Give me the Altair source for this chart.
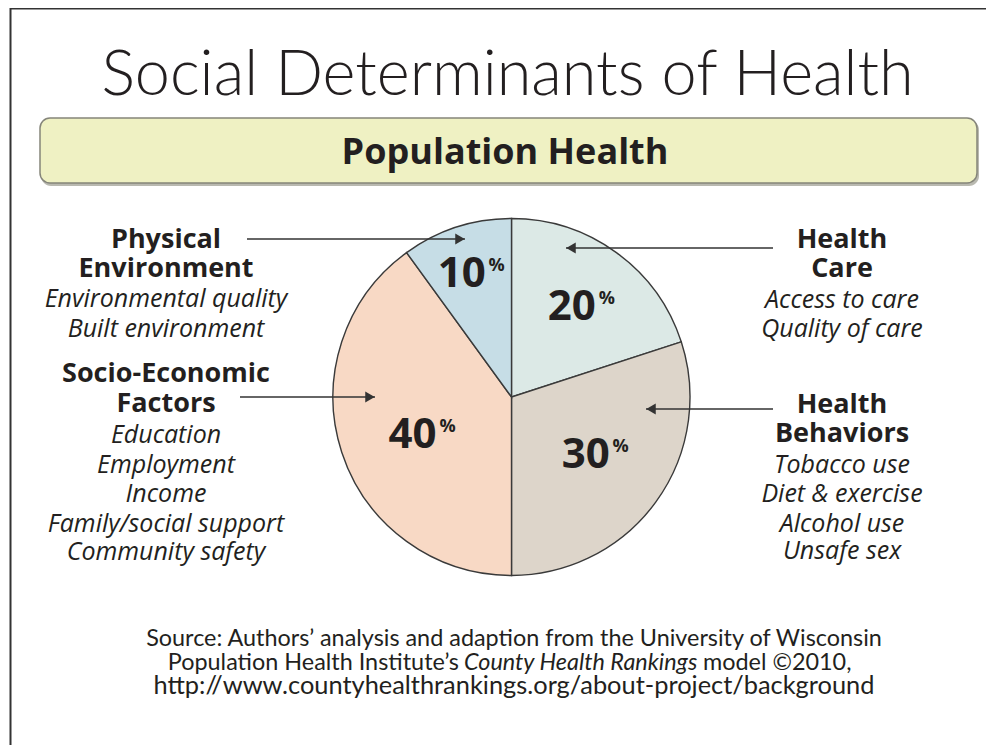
import math
import altair as alt
import pandas as pd

# ---------------- data ----------------
categories = ["Health Care", "Health Behaviors", "Socio-Economic Factors", "Physical Environment"]
shares = [20, 30, 40, 10]
slice_colors = ["#dce9e6", "#ddd5ca", "#f8d9c5", "#c6dde6"]

title_text = "Social Determinants of Health"
banner_text = "Population Health"

left_bold = ["Physical", "Environment", "Socio-Economic", "Factors"]
left_italic = ["Environmental quality", "Built environment", "Education", "Employment",
               "Income", "Family/social support", "Community safety"]
right_bold = ["Health", "Care", "Health", "Behaviors"]
right_italic = ["Access to care", "Quality of care", "Tobacco use", "Diet & exercise",
                "Alcohol use", "Unsafe sex"]

source_line1 = "Source: Authors\u2019 analysis and adaption from the University of Wisconsin"
source_line2a = "Population Health Institute\u2019s"
source_line2b = "County Health Rankings"
source_line2c = "model \u00a92010,"
source_line3 = "http://www.countyhealthrankings.org/about-project/background"

# ---------------- layout (page pixels) ----------------
W, H = 978, 737
CX, CY, R = 511.5, 397.0, 178.5
label_radius = [108, 94, 106, 133]
label_angle_shift = [-2.1, 1.9, -3.1, -4.0]   # degrees, fine placement of the labels

left_x, right_x = 166, 842
left_bold_y = [248, 277, 382, 412]
left_italic_y = [307, 337, 443, 473, 502, 532, 560]
right_bold_y = [248, 277, 413, 442]
right_italic_y = [308, 337, 473, 502, 532, 559]

arrow_x = [247, 240, 773, 773]
arrow_tip = [465, 375, 566, 646]
arrow_y = [239, 397, 248, 409]
arrow_dir = ["triangle-right", "triangle-right", "triangle-left", "triangle-left"]

src_size = 23.4
src3_size = 25.4
src2_x = [459, 464, 703]

INK = "#231f20"
SANS = "Open Sans"
TITLE_FONT = "Lato"

xs = alt.Scale(domain=[8, 8 + W], nice=False, zero=False)
ys = alt.Scale(domain=[8, 8 + H], nice=False, zero=False, reverse=True)


def X(f):
    return alt.X(f, type="quantitative", scale=xs, axis=None)


def Y(f):
    return alt.Y(f, type="quantitative", scale=ys, axis=None)


# frame
frame_df = pd.DataFrame({"x": [10, 10.5], "x2": [8 + W, 10.5], "y": [8.6, 8], "y2": [8.6, 8 + H]})
frame = alt.Chart(frame_df).mark_rule(color="#333333", strokeWidth=2).encode(
    x=X("x"), x2="x2", y=Y("y"), y2="y2")

# banner box
box_df = pd.DataFrame({"x": [40], "x2": [977], "y": [118], "y2": [183]})
shadow_df = pd.DataFrame({"x": [41], "x2": [979], "y": [120], "y2": [186]})
shadow = alt.Chart(shadow_df).mark_rect(cornerRadius=10, fill="#b9b9b0").encode(
    x=X("x"), x2="x2", y=Y("y"), y2="y2")
box = alt.Chart(box_df).mark_rect(cornerRadius=10, fill="#eff1c3", stroke="#85857a",
                                  strokeWidth=1.5).encode(
    x=X("x"), x2="x2", y=Y("y"), y2="y2")

# title + banner text
title_df = pd.DataFrame({"x": [507.5], "y": [95], "t": [title_text]})
title = alt.Chart(title_df).mark_text(font=TITLE_FONT, fontSize=63, fontWeight=300, color=INK,
                                      align="center", baseline="alphabetic").encode(
    x=X("x"), y=Y("y"), text="t:N")
banner_df = pd.DataFrame({"x": [505], "y": [164], "t": [banner_text]})
banner = alt.Chart(banner_df).mark_text(font=SANS, fontSize=36, fontWeight="bold", color=INK,
                                        align="center", baseline="alphabetic").encode(
    x=X("x"), y=Y("y"), text="t:N")

# pie
total = float(sum(shares))
cum = 0.0
mids = []
for s, shift in zip(shares, label_angle_shift):
    mids.append((cum + s / 2.0) / total * 2 * math.pi + math.radians(shift))
    cum += s
pie_df = pd.DataFrame({"cat": categories, "share": shares, "ord": list(range(len(shares))),
                       "num": [str(s) for s in shares], "lr": label_radius, "mid": mids})
pie = alt.Chart(pie_df).mark_arc(outerRadius=R, stroke="#3a3a3a", strokeWidth=1.4).encode(
    theta=alt.Theta("share:Q", stack=True), order=alt.Order("ord:Q"),
    color=alt.Color("cat:N", scale=alt.Scale(domain=categories, range=slice_colors), legend=None),
    x=alt.value(CX - 8), y=alt.value(CY - 8))
mid_theta = alt.Theta("mid:Q", scale=None, stack=None)
nums = alt.Chart(pie_df).mark_text(font=SANS, fontSize=42, fontWeight="bold", color=INK,
                                   align="center", baseline="middle").encode(
    theta=mid_theta, radius=alt.Radius("lr:Q", scale=None), text="num:N",
    x=alt.value(CX - 8), y=alt.value(CY - 8))
pct = alt.Chart(pie_df).mark_text(font=SANS, fontSize=18, fontWeight="bold", color=INK,
                                  align="center", baseline="middle", dx=35, dy=-8).encode(
    theta=mid_theta, radius=alt.Radius("lr:Q", scale=None), text=alt.value("%"),
    x=alt.value(CX - 8), y=alt.value(CY - 8))

# arrows
arr_df = pd.DataFrame({"x": arrow_x, "x2": arrow_tip, "y": arrow_y, "shape": arrow_dir,
                       "hx": [t - 5 if d == "triangle-right" else t + 5
                              for t, d in zip(arrow_tip, arrow_dir)]})
lines = alt.Chart(arr_df).mark_rule(color="#333333", strokeWidth=1.6).encode(
    x=X("x"), x2="x2", y=Y("y"))
heads = alt.Chart(arr_df).mark_point(filled=True, color="#333333", size=120, opacity=1).encode(
    x=X("hx"), y=Y("y"),
    shape=alt.Shape("shape:N", scale=None))

# side labels
bold_df = pd.DataFrame({"t": left_bold + right_bold,
                        "x": [left_x] * len(left_bold) + [right_x] * len(right_bold),
                        "y": left_bold_y + right_bold_y})
ital_df = pd.DataFrame({"t": left_italic + right_italic,
                        "x": [left_x] * len(left_italic) + [right_x] * len(right_italic),
                        "y": left_italic_y + right_italic_y})
bold_txt = alt.Chart(bold_df).mark_text(font=SANS, fontSize=27, fontWeight="bold", color=INK,
                                        align="center", baseline="alphabetic").encode(
    x=X("x"), y=Y("y"), text="t:N")
ital_txt = alt.Chart(ital_df).mark_text(font=SANS, fontSize=25, fontStyle="italic", color=INK,
                                        align="center", baseline="alphabetic").encode(
    x=X("x"), y=Y("y"), text="t:N")

# source
src1 = alt.Chart(pd.DataFrame({"t": [source_line1], "x": [514], "y": [646]})).mark_text(
    font=TITLE_FONT, fontSize=src_size, color=INK, align="center",
    baseline="alphabetic").encode(x=X("x"), y=Y("y"), text="t:N")
src3 = alt.Chart(pd.DataFrame({"t": [source_line3], "x": [514], "y": [694]})).mark_text(
    font=TITLE_FONT, fontSize=src3_size, color=INK, align="center",
    baseline="alphabetic").encode(x=X("x"), y=Y("y"), text="t:N")
src2a = alt.Chart(pd.DataFrame({"t": [source_line2a], "x": [src2_x[0]], "y": [670]})).mark_text(
    font=TITLE_FONT, fontSize=src_size, color=INK, align="right", baseline="alphabetic").encode(
    x=X("x"), y=Y("y"), text="t:N")
src2b = alt.Chart(pd.DataFrame({"t": [source_line2b], "x": [src2_x[1]], "y": [670]})).mark_text(
    font=TITLE_FONT, fontSize=src_size, fontStyle="italic", color=INK, align="left",
    baseline="alphabetic").encode(x=X("x"), y=Y("y"), text="t:N")
src2c = alt.Chart(pd.DataFrame({"t": [source_line2c], "x": [src2_x[2]], "y": [670]})).mark_text(
    font=TITLE_FONT, fontSize=src_size, color=INK, align="left", baseline="alphabetic").encode(
    x=X("x"), y=Y("y"), text="t:N")

chart = alt.layer(
    frame, shadow, box, title, banner, pie, nums, pct, lines, heads,
    bold_txt, ital_txt, src1, src3, src2a, src2b, src2c
).properties(
    width=W, height=H, padding=0,
    autosize=alt.AutoSizeParams(type="none"), background="white"
).configure_view(stroke=None)

chart.save("out.html", embed_options={"renderer": "svg", "actions": False})
